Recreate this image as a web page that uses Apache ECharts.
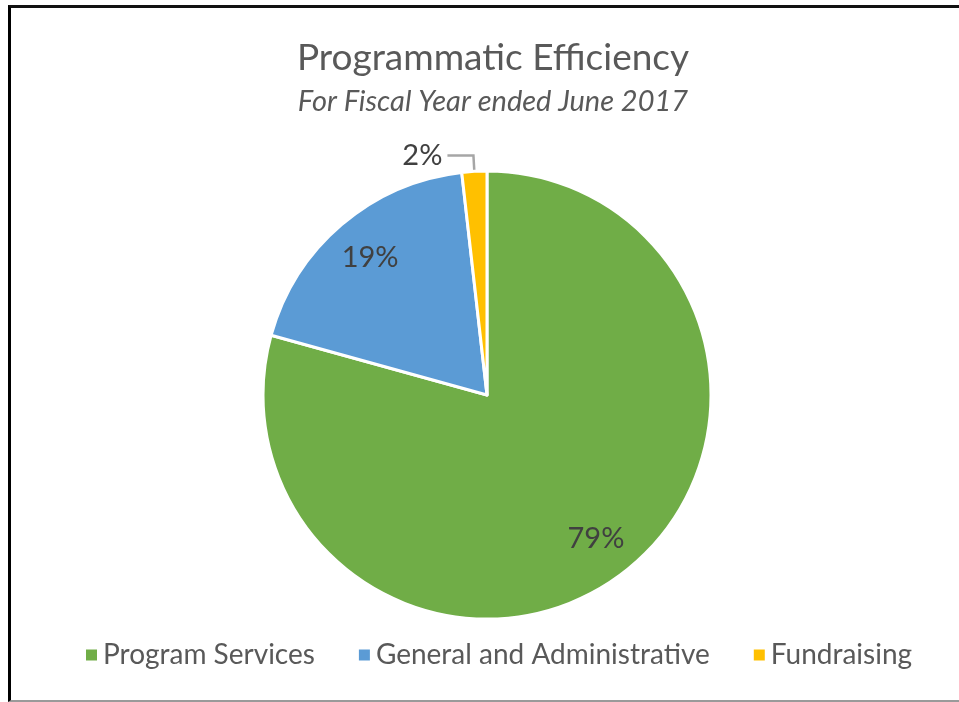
<!DOCTYPE html>
<html>
<head>
<meta charset="utf-8">
<script src="https://cdn.jsdelivr.net/npm/echarts@6/dist/echarts.min.js"></script>
<style>
  html, body { margin: 0; padding: 0; background: #fff; }
  #wrap { position: relative; width: 959px; height: 702px; overflow: hidden; }
  #frame { position: absolute; left: 8px; top: 5px; width: 1000px; height: 692px;
           border-left: 3px solid #000; border-top: 3px solid #111; border-bottom: 2px solid #9a9a9a; }
  #chart { position: absolute; left: 0; top: 0; width: 959px; height: 702px; }
</style>
</head>
<body>
<div id="wrap">
  <div id="frame"></div>
  <div id="chart"></div>
</div>
<script>
const titleText = 'Programmatic Efficiency';
const subtitleText = 'For Fiscal Year ended June 2017';
const categories = ['Program Services', 'General and Administrative', 'Fundraising'];
const values = [79.3, 18.9, 1.8];
const colors = ['#70AD47', '#5B9BD5', '#FFC000'];
const labelsOutside = [false, false, true];

const FONT = 'Lato, "Open Sans", sans-serif';

const mainData = categories.map((c, i) => ({
  name: c,
  value: values[i],
  itemStyle: { color: colors[i] },
  label: { show: labelsOutside[i] },
  labelLine: { show: labelsOutside[i] }
}));
const overlayData = categories.map((c, i) => ({
  name: c,
  value: values[i],
  itemStyle: { color: 'rgba(0,0,0,0)', borderWidth: 0 },
  label: { show: !labelsOutside[i] }
}));

const chart = echarts.init(document.getElementById('chart'), null, { renderer: 'canvas' });
chart.setOption({
  animation: false,
  backgroundColor: 'transparent',
  title: {
    text: titleText,
    subtext: subtitleText,
    left: 488,
    textAlign: 'center',
    top: 35,
    itemGap: 10,
    textStyle: { fontFamily: FONT, fontSize: 37, fontWeight: 'normal', color: '#595959' },
    subtextStyle: { fontFamily: FONT, fontSize: 29, fontStyle: 'italic', color: '#595959' }
  },
  legend: {
    data: categories,
    bottom: 28,
    left: 79,
    icon: 'rect',
    itemWidth: 13,
    itemHeight: 13,
    itemGap: 42,
    textStyle: { fontFamily: FONT, fontSize: 28, color: '#595959' }
  },
  series: [
    {
      type: 'pie',
      center: [487, 395],
      radius: [0, 224],
      startAngle: 90,
      clockwise: true,
      silent: true,
      itemStyle: { borderColor: '#fff', borderWidth: 3 },
      label: {
        position: 'outside',
        formatter: (p) => Math.round(p.value) + '%',
        fontFamily: FONT, fontSize: 29, color: '#404040'
      },
      labelLine: { length: 16, length2: 26, lineStyle: { color: '#A6A6A6', width: 2.5 } },
      emphasis: { disabled: true },
      data: mainData
    },
    {
      type: 'pie',
      center: [487, 395],
      radius: [130, 224],
      startAngle: 90,
      clockwise: true,
      silent: true,
      label: {
        position: 'inside',
        formatter: (p) => Math.round(p.value) + '%',
        fontFamily: FONT, fontSize: 29, color: '#404040'
      },
      labelLine: { show: false },
      emphasis: { disabled: true },
      data: overlayData
    }
  ]
});
</script>
</body>
</html>
